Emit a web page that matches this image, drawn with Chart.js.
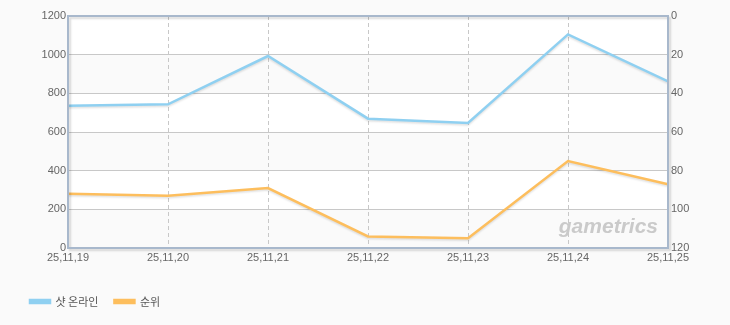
<!DOCTYPE html>
<html><head><meta charset="utf-8">
<script src="https://cdn.jsdelivr.net/npm/chart.js@4"></script>
<style>html,body{margin:0;padding:0;background:#fafafa;}canvas{display:block}</style>
</head><body>
<canvas id="c" width="730" height="325"></canvas>
<script>
const categories = ['25,11,19','25,11,20','25,11,21','25,11,22','25,11,23','25,11,24','25,11,25'];
const onlineUsers = [736, 743, 993, 669, 647, 1105, 862];
const ranks = [92, 93, 89, 114, 115, 75, 87];
const leftTicks = [0, 200, 400, 600, 800, 1000, 1200];
const rightTicks = [0, 20, 40, 60, 80, 100, 120];
const seriesNames = ['샷 온라인', '순위'];

const BLUE = '#8fd0f1';
const ORANGE = '#fdbe5d';
const FRAME = '#a8b8cc';

const bandsPlugin = {
  id: 'bands',
  beforeDraw(chart) {
    const {ctx, chartArea: a, scales} = chart;
    const y = scales.y;
    ctx.save();
    ctx.fillStyle = '#ffffff';
    ctx.fillRect(a.left, a.top, a.right - a.left, a.bottom - a.top);
    ctx.fillStyle = '#fafafa';
    for (let i = 0; i < leftTicks.length - 1; i += 2) {
      const y0 = y.getPixelForValue(leftTicks[i]);
      const y1 = y.getPixelForValue(leftTicks[i + 1]);
      ctx.fillRect(a.left, y1, a.right - a.left, y0 - y1);
    }
    ctx.restore();
  },
  beforeDatasetsDraw(chart) {
    const {ctx, chartArea: a} = chart;
    ctx.save();
    ctx.font = 'italic bold 21px "Liberation Sans", Arial, sans-serif';
    ctx.fillStyle = '#cacaca';
    ctx.textAlign = 'right';
    ctx.textBaseline = 'alphabetic';
    ctx.fillText('gametrics', a.right - 10, a.bottom - 15);
    ctx.restore();
    ctx.save();
    ctx.shadowColor = 'rgba(0,0,0,0.12)';
    ctx.shadowOffsetY = 1.5;
    ctx.shadowBlur = 2;
  },
  afterDatasetsDraw(chart) {
    chart.ctx.restore();
  },
  afterDraw(chart) {
    const {ctx, chartArea: a} = chart;
    ctx.save();
    ctx.shadowColor = 'rgba(0,0,0,0.15)';
    ctx.shadowOffsetX = 2;
    ctx.shadowOffsetY = 2;
    ctx.shadowBlur = 2;
    ctx.strokeStyle = FRAME;
    ctx.lineWidth = 2;
    ctx.strokeRect(a.left, a.top, a.right - a.left, a.bottom - a.top);
    ctx.restore();
  }
};

const tickFont = {family: '"Liberation Sans", Arial, sans-serif', size: 11};

new Chart(document.getElementById('c'), {
  type: 'line',
  data: {
    labels: categories,
    datasets: [
      {label: seriesNames[0], data: onlineUsers, yAxisID: 'y', borderColor: BLUE, backgroundColor: BLUE,
       borderWidth: 2.5, pointRadius: 0, pointHoverRadius: 0, tension: 0, fill: false},
      {label: seriesNames[1], data: ranks, yAxisID: 'y2', borderColor: ORANGE, backgroundColor: ORANGE,
       borderWidth: 2.5, pointRadius: 0, pointHoverRadius: 0, tension: 0, fill: false}
    ]
  },
  options: {
    responsive: false,
    animation: false,
    devicePixelRatio: 1,
    layout: {padding: {top: 16, left: 14, right: 0, bottom: 8}},
    plugins: {
      tooltip: {enabled: false},
      legend: {
        position: 'bottom',
        align: 'start',
        labels: {
          boxWidth: 20, boxHeight: 3, padding: 16,
          color: '#555555',
          font: {family: '"Noto Sans CJK KR", sans-serif', size: 11}
        }
      }
    },
    scales: {
      x: {
        offset: false,
        grid: {color: '#c8c8c8', lineWidth: 1, drawTicks: false},
        border: {display: false, dash: [4, 3]},
        ticks: {color: '#666666', font: tickFont, padding: 3, maxRotation: 0, autoSkip: false},
        afterFit(s) { s.height = 32; }
      },
      y: {
        position: 'left', min: 0, max: 1200,
        afterBuildTicks(s) { s.ticks = leftTicks.map(v => ({value: v})); },
        grid: {color: '#c8c8c8', lineWidth: 1, drawTicks: false},
        border: {display: false},
        ticks: {color: '#666666', font: tickFont, padding: 2, callback: v => String(v)},
        afterFit(s) { s.width = 54; }
      },
      y2: {
        position: 'right', min: 0, max: 120, reverse: true,
        afterBuildTicks(s) { s.ticks = rightTicks.map(v => ({value: v})); },
        grid: {display: false, drawTicks: false},
        border: {display: false},
        ticks: {color: '#666666', font: tickFont, padding: 3, callback: v => String(v)},
        afterFit(s) { s.width = 62; }
      }
    }
  },
  plugins: [bandsPlugin]
});
</script>
</body></html>
